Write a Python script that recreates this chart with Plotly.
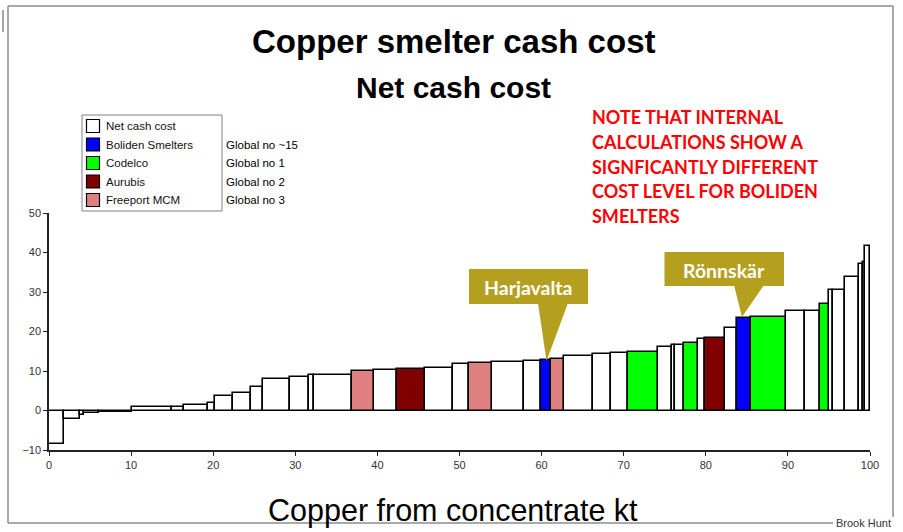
import plotly.graph_objects as go
import numpy as np

# ---------------- data ----------------
# capacity share of each smelter (% of copper from concentrate), in cost order
widths = [1.86, 1.88, 0.56, 1.8, 3.97, 4.88, 1.55, 2.9, 0.8, 2.2, 2.25, 1.45,
          3.2, 2.4, 0.6, 4.6, 2.7, 2.8, 3.4, 3.4, 2.0, 2.8, 3.9, 2.0, 1.2, 1.6,
          3.5, 2.2, 2.1, 3.7, 1.7, 0.4, 1.0, 1.7, 0.9, 2.4, 1.5, 1.7, 4.3, 2.3,
          1.8, 1.1, 0.5, 1.5, 1.7, 0.4, 0.25, 0.65]
# net cash cost of each smelter
costs = [-8.4, -2.2, -1.2, -0.6, -0.3, 0.9, 0.8, 1.5, 1.9, 3.7, 4.5, 6.0,
         8.0, 8.5, 8.9, 9.0, 10.1, 10.3, 10.5, 10.7, 11.7, 12.0, 12.2, 12.6,
         12.8, 13.0, 13.7, 14.2, 14.5, 14.8, 16.0, 16.5, 16.7, 17.1, 18.1, 18.35,
         21.0, 23.5, 23.7, 25.1, 25.3, 27.0, 30.4, 30.6, 33.8, 37.1, 37.5, 41.6]
# owner group of each smelter
owners = ["Net cash cost"] * 16 + [
    "Freeport MCM", "Net cash cost", "Aurubis", "Net cash cost", "Net cash cost",
    "Freeport MCM", "Net cash cost", "Net cash cost", "Boliden Smelters",
    "Freeport MCM", "Net cash cost", "Net cash cost", "Net cash cost", "Codelco",
    "Net cash cost", "Net cash cost", "Net cash cost", "Codelco", "Net cash cost",
    "Aurubis", "Net cash cost", "Boliden Smelters", "Codelco", "Net cash cost",
    "Net cash cost", "Codelco", "Net cash cost", "Net cash cost", "Net cash cost",
    "Net cash cost", "Net cash cost", "Net cash cost"]

groups = ["Net cash cost", "Boliden Smelters", "Codelco", "Aurubis", "Freeport MCM"]
group_colors = ["#FFFFFF", "#0000FF", "#00FF00", "#800000", "#E07F7F"]
global_rank = ["", "Global no ~15", "Global no 1", "Global no 2", "Global no 3"]

x_ticks = [0, 10, 20, 30, 40, 50, 60, 70, 80, 90, 100]
y_ticks = [-10, 0, 10, 20, 30, 40, 50]

title1 = "Copper smelter cash cost"
title2 = "Net cash cost"
x_title = "Copper from concentrate kt"
note_lines = ["NOTE THAT INTERNAL", "CALCULATIONS SHOW A", "SIGNFICANTLY DIFFERENT",
              "COST LEVEL FOR BOLIDEN", "SMELTERS"]
callouts = ["Harjavalta", "Rönnskär"]
source = "Brook Hunt"

# ---------------- figure ----------------
W, H = 903, 532
L, R, T, B = 49, 870, 213, 450
ARIAL = "Liberation Sans, Arial, sans-serif"
CALIBRI = "Lato, Open Sans, sans-serif"


def px(xp):
    return (xp - L) / (R - L)


def py(yp):
    return (B - yp) / (B - T)


starts = np.concatenate([[0.0], np.cumsum(widths)[:-1]])

fig = go.Figure()
for g, col in zip(groups, group_colors):
    idx = [i for i, o in enumerate(owners) if o == g]
    fig.add_trace(go.Bar(
        x=[starts[i] for i in idx],
        y=[costs[i] for i in idx],
        width=[widths[i] for i in idx],
        offset=0,
        name=g,
        marker=dict(color=col, line=dict(color="black", width=1.6)),
        hoverinfo="y",
        showlegend=False,
    ))

fig.update_layout(
    width=W, height=H,
    margin=dict(l=L, r=W - R, t=T, b=H - B, pad=0, autoexpand=False),
    paper_bgcolor="white", plot_bgcolor="white",
    barmode="overlay", bargap=0,
    font=dict(family=ARIAL, size=11, color="#333333"),
    xaxis=dict(range=[0, 100], tickvals=x_ticks, showgrid=False, zeroline=False,
               showline=True, linecolor="#222222", linewidth=1.5,
               ticks="outside", ticklen=4, tickcolor="#222222",
               tickfont=dict(size=11, color="#333333")),
    yaxis=dict(range=[-10, 50], tickvals=y_ticks, showgrid=False,
               zeroline=True, zerolinecolor="#909090", zerolinewidth=1,
               showline=True, linecolor="#222222", linewidth=1.5,
               ticks="outside", ticklen=4, tickcolor="#222222",
               tickfont=dict(size=11, color="#333333")),
)

ann = []
shapes = []


def text(t, x, y, size, color="black", family=ARIAL, xanchor="center"):
    ann.append(dict(text=t, x=px(x), y=py(y), xref="paper", yref="paper",
                    xanchor=xanchor, yanchor="middle", showarrow=False,
                    font=dict(size=size, color=color, family=family)))


text(f"<b>{title1}</b>", 453, 41, 33)
text(f"<b>{title2}</b>", 453, 87, 30)
text(x_title, 453, 510, 30.5)
text(source, 893, 523, 11, color="#333333", xanchor="right")

# legend (drawn manually to match the original box)
shapes.append(dict(type="rect", xref="paper", yref="paper",
                   x0=px(82), x1=px(222), y0=py(211), y1=py(115),
                   fillcolor="white", line=dict(color="#808080", width=1)))
for k, (g, col, lab) in enumerate(zip(groups, group_colors, global_rank)):
    yc = 126 + 18.5 * k
    shapes.append(dict(type="rect", xref="paper", yref="paper",
                       x0=px(86.5), x1=px(99.5), y0=py(yc + 6.5), y1=py(yc - 6.5),
                       fillcolor=col, line=dict(color="black", width=1.2)))
    text(g, 104, yc, 11.5, color="#111111", xanchor="left")
    if lab:
        text(lab, 224, yc, 11.5, color="black", xanchor="left")

for k, line in enumerate(note_lines):
    text(f"<b>{line}</b>", 590, 117.5 + 24.6 * k, 18, color="#FF0000",
         family=CALIBRI, xanchor="left")

olive = "#B4A01E"
boxes = [((469, 269, 588, 304), (538, 568, 546.5, 361)),
         ((664.5, 252, 784, 286), (734, 764, 742, 317))]
for lab, ((x0, y0, x1, y1), (tx0, tx1, tipx, tipy)) in zip(callouts, boxes):
    shapes.append(dict(type="rect", xref="paper", yref="paper",
                       x0=px(x0), x1=px(x1), y0=py(y1), y1=py(y0),
                       fillcolor=olive, line=dict(width=0), layer="above"))
    shapes.append(dict(type="path", xref="paper", yref="paper",
                       path=f"M{px(tx0)},{py(y1 - 1)} L{px(tx1)},{py(y1 - 1)} L{px(tipx)},{py(tipy)} Z",
                       fillcolor=olive, line=dict(width=0), layer="above"))
    text(f"<b>{lab}</b>", (x0 + x1) / 2, (y0 + y1) / 2 + 1, 19.5, color="white",
         family=CALIBRI)

# outer frame
frame = "#8C8C8C"
for (a, b, c, d) in [(8, 6, 893, 6), (8, 6, 8, 523), (893, 6, 893, 517), (8, 523, 833, 523),
                     (3, 10, 3, 32)]:
    shapes.append(dict(type="line", xref="paper", yref="paper",
                       x0=px(a), y0=py(b), x1=px(c), y1=py(d),
                       line=dict(color=frame, width=1.5)))

fig.update_layout(annotations=ann, shapes=shapes)
fig.write_html("out.html", config={"displayModeBar": False},
               post_script="document.body.style.margin='0px';document.body.style.overflow='hidden';")
